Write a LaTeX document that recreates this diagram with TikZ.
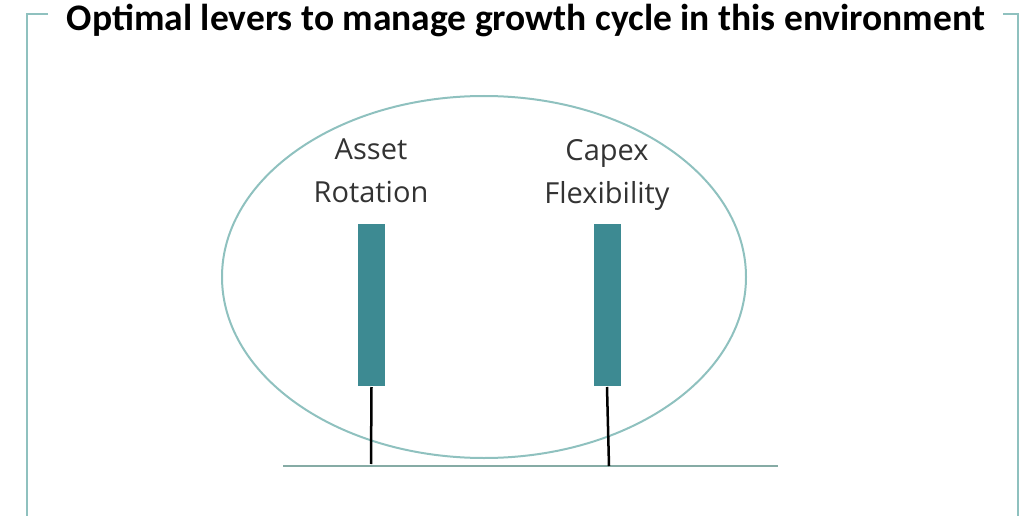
\documentclass[tikz,border=0pt]{standalone}
\usepackage{fontspec}
\setmainfont{Carlito}
\newfontfamily\lightfont{Open Sans}
\usetikzlibrary{positioning,shapes.geometric}
\definecolor{frameteal}{HTML}{8FC1BF}
\definecolor{barteal}{HTML}{3D8A92}
\definecolor{basegray}{HTML}{86ABA5}
\tikzset{lever/.style={align=center,text=black!80,text depth=8pt,font=\lightfont\fontsize{29}{43}\selectfont},
	bar/.style={fill=barteal,minimum width=27pt,minimum height=162pt,inner sep=0pt}}
\begin{document}
\begin{tikzpicture}[x=1pt,y=-1pt,line width=2pt]
				\useasboundingbox (0,0) rectangle (1023,516);
				\node(title) at (526,20) {\fontsize{37.5}{44}\selectfont\bfseries Optimal levers to manage growth cycle in this environment};
				\draw[frameteal] (48,14) -- (27,14) -- (27,516);
				\draw[frameteal] (1003,14) -- (1018,14) -- (1018,516);
				\node(oval)[draw=frameteal,ellipse,minimum width=524pt,minimum height=362pt] at (484,277) {};
				\node(asset)[lever] at (371,175) {Asset\\Rotation};
				\node(capex)[lever] at (607,175) {Capex\\Flexibility};
				\node(bara)[bar] at (371.5,305) {};
				\node(barc)[bar] at (607,305) {};
				\coordinate(gl) at (283,466);
				\coordinate(gr) at (778,466);
				\coordinate(fa) at (371,464);
				\coordinate(fc) at (609,466);
				\draw[basegray,line width=1.5pt](gl) -- (gr);
			 	\draw[line width=2.5pt](bara.south) -- (fa);
			 	\draw[line width=2.5pt](barc.south) -- (fc);
			\end{tikzpicture}
\end{document}
